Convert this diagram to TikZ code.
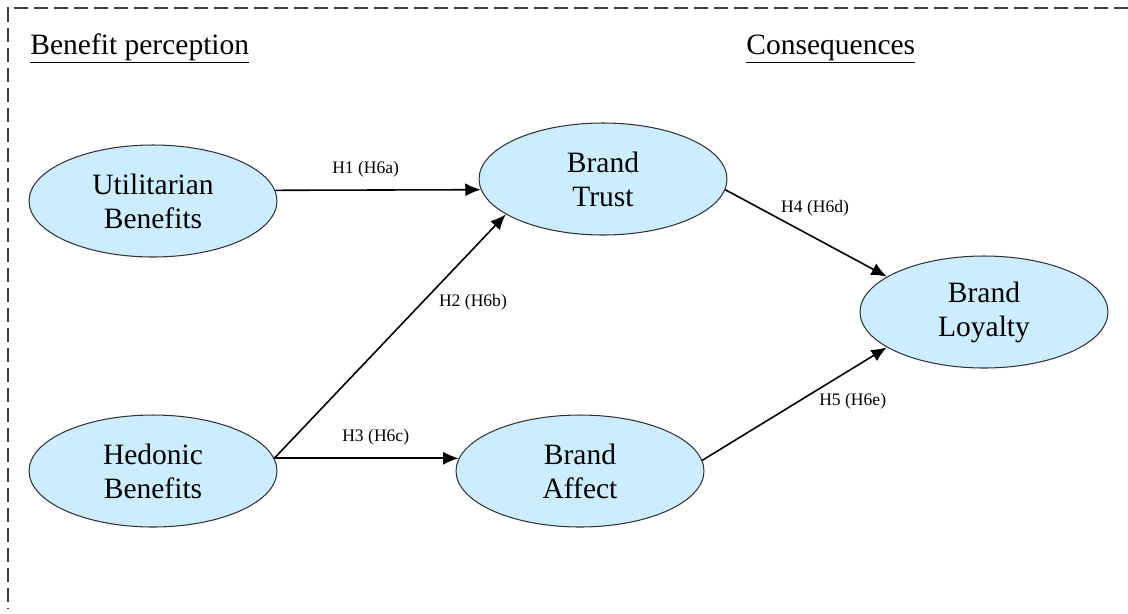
\documentclass[tikz,border=0pt]{standalone}
\usepackage{fontspec}
\setmainfont{Liberation Serif}
\usetikzlibrary{shapes.geometric,arrows.meta}
\definecolor{lightsky}{HTML}{CCECFF}
\definecolor{borderdash}{HTML}{3C3C3C}

\begin{document}
\begin{tikzpicture}[x=0.02cm,y=-0.02cm]

\def\ellw{4.96cm}
\def\ellh{2.24cm}
\def\linew{0.9pt}

\tikzset{
	construct/.style={ellipse, draw=black!80, line width=0.6pt, fill=lightsky,
		minimum width=\ellw, minimum height=\ellh, inner sep=0pt, align=center,
		font=\fontsize{16.8}{19.3}\selectfont},
	path/.style={line width=\linew, -{Latex[length=3.1mm,width=2.6mm]}},
	hyp/.style={font=\fontsize{10}{12}\selectfont, inner sep=1pt},
	heading/.style={anchor=base west, inner sep=0pt, font=\fontsize{16.8}{18}\selectfont}
}

\path [use as bounding box] (0,0) rectangle (1128,613);

% Frame
\draw [borderdash, line width=1.3pt, dash pattern=on 0.28cm off 0.12cm]
	(1128,8) -- (8,8) -- (8,608);

% Headings
\node [heading] (benefit) at (30,54) {\underline{Benefit perception}};
\node [heading] (conseq) at (746,54) {\underline{Consequences}};

% Ellipses
\node [construct] (util) at (153,201) {Utilitarian\\Benefits};
\node [construct] (hedon) at (153,471) {Hedonic\\Benefits};
\node [construct] (trust) at (603,179) {Brand\\Trust};
\node [construct] (affect) at (580,471) {Brand\\Affect};
\node [construct] (loyal) at (984,312) {Brand\\Loyalty};

% Paths
\draw [path] (util.5) -- node [hyp, pos=0.44, above=0.2cm] (h1) {H1 (H6a)} (trust.185);
\draw [path] (hedon.6) -- node [hyp, pos=0.64, right=0.28cm] (h2) {H2 (H6b)} (trust.200);
\draw [path] (hedon.6) -- node [hyp, pos=0.55, above=0.2cm] (h3) {H3 (H6c)} (affect.174);
\draw [path] (trust.-5) -- node [hyp, pos=0.33, anchor=south west] (h4) {H4 (H6d)} (loyal.160);
\draw [path] (affect.5) -- node [hyp, pos=0.62, anchor=north west] (h5) {H5 (H6e)} (loyal.200);

\end{tikzpicture}
\end{document}
